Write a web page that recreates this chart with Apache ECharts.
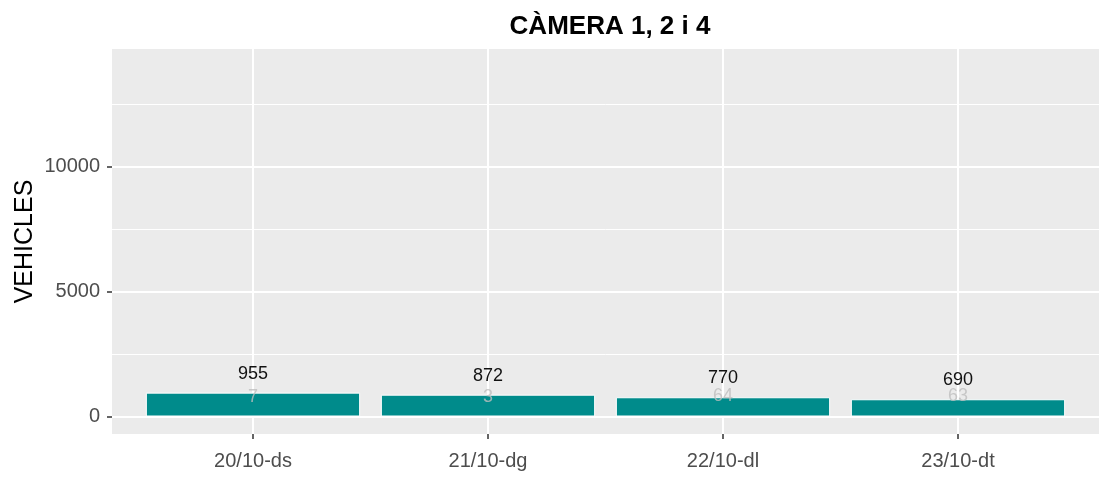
<!DOCTYPE html>
<html>
<head>
<meta charset="utf-8">
<title>CÀMERA 1, 2 i 4</title>
<script src="https://cdn.jsdelivr.net/npm/echarts@6/dist/echarts.min.js"></script>
<style>
  html, body { margin: 0; padding: 0; background: #ffffff; }
  #chart { width: 1099px; height: 477px; }
</style>
</head>
<body>
<div id="chart"></div>
<script>
// Daily vehicle counts for cameras 1, 2 and 4
const categories = ['20/10-ds', '21/10-dg', '22/10-dl', '23/10-dt'];
const totalVehicles = [955, 872, 770, 690];
const heavyVehicles = [7, 3, 64, 63];
const yTicks = [0, 5000, 10000];
const yMinorTicks = [2500, 7500, 12500];

// Plot panel geometry (discrete x scale padded by 0.6 of a step on each side)
const PANEL_LEFT = 112;
const PANEL_WIDTH = 1000;
const X_MIN = -0.6;
const X_MAX = categories.length - 1 + 0.6;
const STEP_PX = PANEL_WIDTH / (X_MAX - X_MIN);
const BAR_PX = 0.9 * STEP_PX;

const xIdx = categories.map((_, i) => i);
const FONT = 'Liberation Sans, Arial';

const chart = echarts.init(document.getElementById('chart'), null, { renderer: 'canvas' });

const gridLine = (w) => ({ color: '#ffffff', width: w, type: 'solid' });
const tickStyle = { color: '#333333', width: 1.5 };

const option = {
  animation: false,
  backgroundColor: '#ffffff',
  title: {
    text: 'CÀMERA 1, 2 i 4',
    left: 605,
    top: 9,
    textAlign: 'center',
    textStyle: { fontFamily: FONT, fontWeight: 'bold', fontSize: 26, color: '#000000' }
  },
  grid: {
    left: PANEL_LEFT,
    width: PANEL_WIDTH,
    top: 49,
    bottom: 43,
    show: true,
    backgroundColor: '#EBEBEB',
    borderWidth: 0
  },
  xAxis: {
    type: 'value',
    position: 'bottom',
    min: X_MIN,
    max: X_MAX,
    axisLine: { show: true, onZero: false, lineStyle: { opacity: 0 } },
    axisTick: { show: true, customValues: xIdx, length: 5, lineStyle: tickStyle },
    axisLabel: {
      customValues: xIdx,
      formatter: (v) => categories[Math.round(v)],
      color: '#4D4D4D',
      fontFamily: FONT,
      fontSize: 20,
      margin: 17
    },
    splitLine: { show: false }
  },
  yAxis: {
    type: 'value',
    position: 'left',
    min: -700,
    max: 14700,
    name: 'VEHICLES',
    nameLocation: 'middle',
    nameGap: 74,
    nameMoveOverlap: false,
    nameRotate: 90,
    nameTextStyle: { fontFamily: FONT, fontSize: 25, color: '#000000' },
    axisLine: { show: true, onZero: false, lineStyle: { opacity: 0 } },
    axisTick: { show: true, customValues: yTicks, length: 5, lineStyle: tickStyle },
    axisLabel: {
      customValues: yTicks,
      formatter: (v) => String(v),
      color: '#4D4D4D',
      fontFamily: FONT,
      fontSize: 20,
      margin: 12
    },
    splitLine: { show: false }
  },
  series: [
    {
      // panel grid lines, kept underneath the bars
      type: 'line',
      data: [],
      silent: true,
      z: 0,
      markLine: {
        silent: true,
        z: 0,
        symbol: 'none',
        label: { show: false },
        animation: false,
        data: [
          ...yMinorTicks.map(v => ({ yAxis: v, lineStyle: gridLine(1) })),
          ...yTicks.map(v => ({ yAxis: v, lineStyle: gridLine(2) })),
          ...xIdx.map(v => ({ xAxis: v, lineStyle: gridLine(2) }))
        ]
      }
    },
    {
      name: 'Total',
      type: 'bar',
      z: 2,
      barWidth: BAR_PX,
      data: xIdx.map(i => [i, totalVehicles[i]]),
      itemStyle: { color: '#008B8B', borderColor: '#ffffff', borderWidth: 1 },
      label: {
        show: true,
        position: 'top',
        distance: 10,
        formatter: (p) => p.value[1],
        color: '#111111',
        fontFamily: FONT,
        fontSize: 18
      }
    },
    {
      name: 'Pesants',
      type: 'scatter',
      z: 3,
      symbolSize: 0,
      data: xIdx.map(i => [i, heavyVehicles[i]]),
      label: {
        show: true,
        position: 'top',
        distance: 10,
        formatter: (p) => p.value[1],
        color: '#BEBEBE',
        fontFamily: FONT,
        fontSize: 18
      }
    }
  ]
};

chart.setOption(option);
</script>
</body>
</html>
